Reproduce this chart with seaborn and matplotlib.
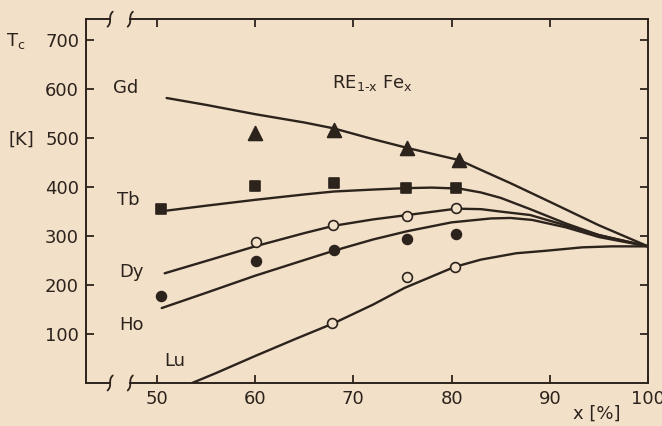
import numpy as np
import pandas as pd
import matplotlib
matplotlib.use("Agg")
import matplotlib.pyplot as plt
import seaborn as sns
from matplotlib.patches import Rectangle
from matplotlib.lines import Line2D

# ---------------- data ----------------
gd_curve_x = [51, 55, 60, 65, 68, 72, 75.5, 80.8, 83, 86, 90, 95, 100]
gd_curve_t = [582, 568, 549, 532, 520, 498, 480, 455, 435, 408, 370, 322, 279]
tb_curve_x = [51, 55, 60, 65, 68, 72, 75.5, 78, 80.8, 83, 85, 88, 91.6, 95, 100]
tb_curve_t = [352, 362, 374, 385, 391, 395, 398, 399, 397, 389, 378, 355, 326, 302, 279]
dy_curve_x = [50.8, 55, 60, 65, 68, 72, 75.5, 80.5, 83, 85, 88, 91.6, 95, 100]
dy_curve_t = [224, 249, 279, 306, 321, 334, 343, 356, 355, 350, 343, 322, 302, 279]
ho_curve_x = [50.5, 55, 60, 65, 68, 72, 75.5, 80, 84, 86, 88.2, 91.6, 95, 100]
ho_curve_t = [153, 184, 219, 251, 270, 293, 310, 328, 336, 337, 333, 318, 298, 279]
lu_curve_x = [53.6, 56, 60, 64, 68, 72, 75.2, 80.3, 83, 86.6, 89.6, 93.3, 96.3, 100]
lu_curve_t = [0, 20, 55, 89, 122, 160, 194, 237, 252, 265, 270, 277, 279, 279]

gd_pts_x = [60, 68, 75.5, 80.8]
gd_pts_t = [510, 516, 480, 455]
tb_pts_x = [50.4, 60, 68, 75.4, 80.4]
tb_pts_t = [355, 402, 409, 399, 398]
dy_pts_x = [60.1, 67.9, 75.5, 80.4]
dy_pts_t = [288, 322, 340, 358]
ho_pts_x = [50.4, 60.1, 68, 75.5, 80.4]
ho_pts_t = [178, 249, 271, 294, 305]
lu_pts_x = [67.8, 75.5, 80.3]
lu_pts_t = [122, 216, 237]

series_names = ["Gd", "Tb", "Dy", "Ho", "Lu"]
x_ticks = [50, 60, 70, 80, 90, 100]
y_ticks = [100, 200, 300, 400, 500, 600, 700]

# ---------------- style ----------------
BG = "#f2e0c9"
INK = "#2c231d"
FS = 13

sns.set_style("ticks")
plt.rcParams["font.family"] = ["DejaVu Sans"]
plt.rcParams["mathtext.default"] = "regular"

fig = plt.figure(figsize=(6.62, 4.26), dpi=100, facecolor=BG)
ax = fig.add_axes([0.130, 0.101, 0.849, 0.854])
ax.set_facecolor(BG)

curve_frames = []
for name, cx, ct in zip(series_names,
                        [gd_curve_x, tb_curve_x, dy_curve_x, ho_curve_x, lu_curve_x],
                        [gd_curve_t, tb_curve_t, dy_curve_t, ho_curve_t, lu_curve_t]):
    curve_frames.append(pd.DataFrame({"x": cx, "T": ct, "series": name}))
curves = pd.concat(curve_frames, ignore_index=True)

sns.lineplot(data=curves, x="x", y="T", units="series", estimator=None,
             sort=False, color=INK, lw=1.7, ax=ax, zorder=2)

marker_specs = [
    (gd_pts_x, gd_pts_t, "^", INK, 100),
    (tb_pts_x, tb_pts_t, "s", INK, 52),
    (dy_pts_x, dy_pts_t, "o", BG, 50),
    (ho_pts_x, ho_pts_t, "o", INK, 50),
    (lu_pts_x, lu_pts_t, "o", BG, 50),
]
for px, pt, mk, face, size in marker_specs:
    sns.scatterplot(x=px, y=pt, marker=mk, s=size, color=face,
                    edgecolor=INK, linewidth=1.2, ax=ax, zorder=4)

ax.set_xlim(42.8, 100)
ax.set_ylim(0, 743)
ax.set_xticks(x_ticks)
ax.set_yticks(y_ticks)
ax.set_xticklabels([str(v) for v in x_ticks])
ax.set_yticklabels([str(v) for v in y_ticks])
ax.set_xlabel("")
ax.set_ylabel("")
ax.tick_params(direction="in", length=6, width=1.3, colors=INK,
               labelsize=FS, top=True, right=True, pad=5)
for sp in ax.spines.values():
    sp.set_visible(True)
    sp.set_color(INK)
    sp.set_linewidth(1.4)

# curve labels
for lab, lx, ly in [("Gd", 46.8, 602), ("Tb", 47.1, 373), ("Dy", 47.4, 227),
                    ("Ho", 47.4, 118), ("Lu", 51.8, 45)]:
    ax.text(lx, ly, lab, ha="center", va="center", fontsize=FS, color=INK)
ax.text(71.9, 612, "RE$_{1\u2010x}$ Fe$_x$", ha="center", va="center",
        fontsize=FS, color=INK)

fig.text(16 / 662, 1 - 41 / 426, r"T$_c$", ha="center", va="center",
         fontsize=FS, color=INK)
fig.text(21 / 662, 1 - 140 / 426, "[K]", ha="center", va="center",
         fontsize=FS, color=INK)
fig.text(597 / 662, 1 - 414 / 426, "x [%]", ha="center", va="center",
         fontsize=FS, color=INK)

# axis break marks on bottom and top spines
fig.canvas.draw()
W, H = fig.bbox.width, fig.bbox.height
for yax in (0.0, 1.0):
    yd = ax.transAxes.transform([(0, yax)])[0][1]
    xa = ax.transData.transform([(45.25, 0)])[0][0]
    xb = ax.transData.transform([(47.3, 0)])[0][0]
    fig.patches.append(Rectangle(((xa + 1) / W, (yd - 3) / H), (xb - xa - 2) / W, 6 / H,
                                 transform=fig.transFigure, facecolor=BG,
                                 edgecolor="none", zorder=5))
    t = np.linspace(-1, 1, 40)
    for xc in (xa, xb):
        xs = xc + 2.6 * t ** 3
        ys = yd + 7.5 * t
        fig.lines.append(Line2D(xs / W, ys / H, transform=fig.transFigure,
                                color=INK, lw=1.3, zorder=6))

fig.savefig("out.png", dpi=100, facecolor=BG)
